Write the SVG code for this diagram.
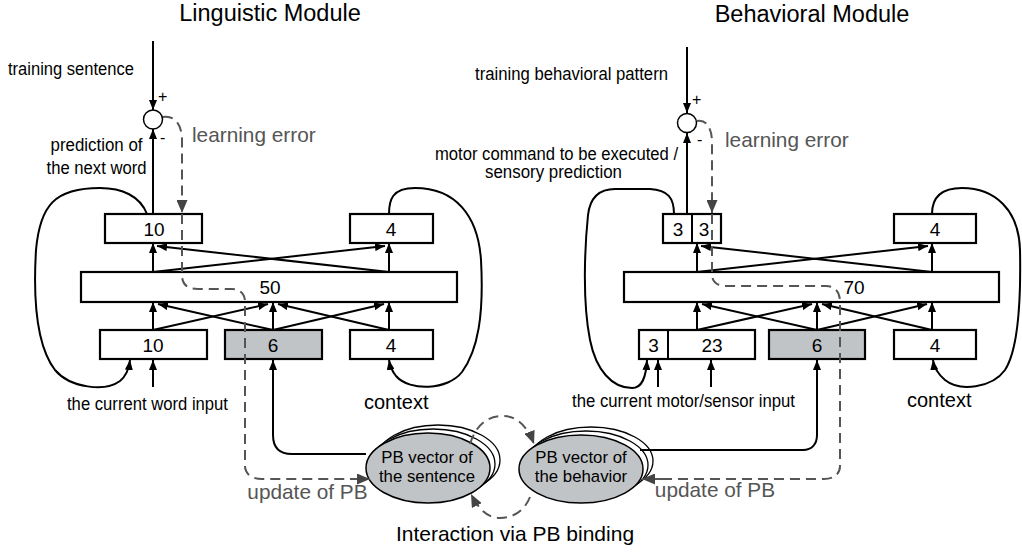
<svg xmlns="http://www.w3.org/2000/svg" width="1022" height="552" viewBox="0 0 1022 552">
<style>
text{font-family:"Liberation Sans",Arial,sans-serif;fill:#000}
.title{font-size:23.5px;text-anchor:middle}
.lbl{font-size:17.5px}
.big{font-size:20px}
.err{font-size:20.8px;fill:#555}
.num{font-size:19px;text-anchor:middle}
.pm{font-size:16px}
.pb{font-size:16.8px;text-anchor:middle}
.box{fill:#fff;stroke:#000;stroke-width:2.2}
.gbox{fill:#c0c4c7;stroke:#000;stroke-width:2.2}
.ell{fill:#fff;stroke:#000;stroke-width:1.3}
.gell{fill:#c0c4c7;stroke:#000;stroke-width:1.5}
.sum{fill:#fff;stroke:#000;stroke-width:1.5}
.c{fill:none;stroke:#000;stroke-width:2}
.a{marker-end:url(#arr)}
.d{fill:none;stroke:#555;stroke-width:2;stroke-dasharray:10 6}
.da{marker-end:url(#garr)}
</style>
<defs>
<marker id="arr" viewBox="0 0 10 8" refX="10" refY="4" markerWidth="10" markerHeight="8" markerUnits="userSpaceOnUse" orient="auto"><path d="M0,0L10,4L0,8z" fill="#000"/></marker>
<marker id="garr" viewBox="0 0 13 11" refX="13" refY="5.5" markerWidth="13" markerHeight="11" markerUnits="userSpaceOnUse" orient="auto"><path d="M0,0L13,5.5L0,11z" fill="#444"/></marker>
</defs>
<rect width="1022" height="552" fill="#fff"/>

<text class="title" x="270" y="21">Linguistic Module</text>
<text class="title" x="812" y="22">Behavioral Module</text>

<!-- Linguistic module nodes -->
<g id="L-sum"><circle class="sum" cx="153" cy="119.5" r="9.5"/></g>
<g id="L-out10"><rect class="box" x="105" y="214" width="97" height="29"/><text class="num" x="154" y="236">10</text></g>
<g id="L-ctxout4"><rect class="box" x="350" y="214" width="83" height="29"/><text class="num" x="391" y="236">4</text></g>
<g id="L-hid50"><rect class="box" x="81" y="272" width="376" height="30"/><text class="num" x="270" y="294">50</text></g>
<g id="L-in10"><rect class="box" x="100" y="330" width="107" height="29"/><text class="num" x="153" y="352">10</text></g>
<g id="L-pb6"><rect class="gbox" x="225" y="330" width="97" height="29"/><text class="num" x="273" y="352">6</text></g>
<g id="L-ctxin4"><rect class="box" x="350" y="330" width="83" height="29"/><text class="num" x="391" y="352">4</text></g>

<!-- Behavioral module nodes -->
<g id="B-sum"><circle class="sum" cx="687" cy="123" r="9.5"/></g>
<g id="B-out33"><rect class="box" x="663" y="214" width="58" height="29"/><line x1="692" y1="214" x2="692" y2="243" stroke="#000" stroke-width="2"/><text class="num" x="678" y="236">3</text><text class="num" x="704" y="236">3</text></g>
<g id="B-ctxout4"><rect class="box" x="894" y="214" width="82" height="29"/><text class="num" x="935" y="236">4</text></g>
<g id="B-hid70"><rect class="box" x="624" y="272" width="375" height="30"/><text class="num" x="854" y="294">70</text></g>
<g id="B-in323"><rect class="box" x="639" y="330" width="116" height="29"/><line x1="668" y1="330" x2="668" y2="359" stroke="#000" stroke-width="2"/><text class="num" x="653.5" y="352">3</text><text class="num" x="712" y="352">23</text></g>
<g id="B-pb6"><rect class="gbox" x="769" y="330" width="96" height="29"/><text class="num" x="817" y="352">6</text></g>
<g id="B-ctxin4"><rect class="box" x="894" y="330" width="82" height="29"/><text class="num" x="935" y="352">4</text></g>

<!-- PB ellipses -->
<g id="PB-sentence">
<ellipse class="ell" cx="438" cy="460" rx="62" ry="35"/>
<ellipse class="ell" cx="433" cy="464" rx="62" ry="35"/>
<ellipse class="gell" cx="428" cy="468" rx="62" ry="35"/>
<text class="pb" x="427" y="463">PB vector of</text>
<text class="pb" x="427" y="482">the sentence</text>
</g>
<g id="PB-behavior">
<ellipse class="ell" cx="591" cy="461" rx="62" ry="34"/>
<ellipse class="ell" cx="586" cy="465" rx="62" ry="34"/>
<ellipse class="gell" cx="581" cy="469" rx="62" ry="34"/>
<text class="pb" x="581" y="463">PB vector of</text>
<text class="pb" x="581" y="482">the behavior</text>
</g>

<!-- connectors -->
<g id="connectors">
<!-- Linguistic -->
<path class="c a" d="M153,41V110"/>
<path class="c a" d="M153,214V129"/>
<path class="c a" d="M153,272V243"/>
<path class="c a" d="M389,272V243"/>
<path class="c a" d="M153,272L385,246"/>
<path class="c a" d="M389,272L157,246"/>
<path class="c a" d="M153,330V302"/>
<path class="c a" d="M273,330V302"/>
<path class="c a" d="M389,330V302"/>
<path class="c a" d="M153,330L268,304"/>
<path class="c a" d="M273,330L158,304"/>
<path class="c a" d="M273,330L384,304"/>
<path class="c a" d="M389,330L278,304"/>
<path class="c a" d="M147,214C140,196 122,188 100,188C55,188 40,205 36,250C33,300 36,345 55,370C70,388 105,392 120,381C126,376 129,369 130,360"/>
<path class="c a" d="M389,214C389,200 392,188 415,188C455,188 478,215 481,260C484,315 478,350 462,372C448,390 410,392 396,376C392,371 390,366 389,360"/>
<path class="c a" d="M153,387V360"/>
<path class="c a" d="M366,454H292C279,454 273,447 273,435V360"/>
<path class="d da" d="M163,117C175,115 182,125 182,140V213"/>
<path class="d" d="M182,214V275C182,285 188,289 198,289H232C240,289 245,294 245,302V466C245,474 252,479 262,479H358"/>
<path class="d da" d="M350,479H370"/>
<!-- Behavioral -->
<path class="c a" d="M687,47V113"/>
<path class="c a" d="M687,214V133"/>
<path class="c a" d="M697,272V243"/>
<path class="c a" d="M932,272V243"/>
<path class="c a" d="M697,272L928,246"/>
<path class="c a" d="M932,272L701,246"/>
<path class="c a" d="M697,330V302"/>
<path class="c a" d="M817,330V302"/>
<path class="c a" d="M932,330V302"/>
<path class="c a" d="M697,330L812,304"/>
<path class="c a" d="M817,330L702,304"/>
<path class="c a" d="M817,330L927,304"/>
<path class="c a" d="M932,330L822,304"/>
<path class="c a" d="M674,214C674,198 668,190 650,189H615C598,189 590,198 588,215C585,245 582,300 590,340C596,370 612,388 632,388C642,388 646,378 647,360"/>
<path class="c a" d="M932,214C932,200 938,188 962,188C995,188 1019,210 1020,250C1021,300 1018,350 1005,370C992,388 960,392 945,380C938,374 934,368 933,360"/>
<path class="c a" d="M658,387V360"/>
<path class="c a" d="M711,387V360"/>
<path class="c a" d="M640,450H803C812,450 817,444 817,435V360"/>
<path class="d da" d="M697,121C706,119 712,128 712,142V213"/>
<path class="d" d="M712,214V274C712,282 717,286 726,286H826C835,286 840,292 840,302V466C840,474 834,479 824,479H655"/>
<path class="d da" d="M662,479H642"/>
<!-- Interaction -->
<path class="d da" d="M470,444C477,422 490,416 503,416C518,416 528,428 534,444"/>
<path class="d da" d="M530,497C524,512 512,518 500,518C488,518 479,510 471,494"/>
</g>

<!-- labels -->
<text class="lbl" x="134" y="75" text-anchor="end" textLength="126" lengthAdjust="spacingAndGlyphs">training sentence</text>
<text class="pm" x="158" y="102">+</text>
<text class="pm" x="160" y="143">-</text>
<text class="lbl" x="96.5" y="151" text-anchor="middle" textLength="92" lengthAdjust="spacingAndGlyphs">prediction of</text>
<text class="lbl" x="96.5" y="174" text-anchor="middle" textLength="100" lengthAdjust="spacingAndGlyphs">the next word</text>
<text class="err" x="192" y="142">learning error</text>
<text class="lbl" x="67" y="410" textLength="161" lengthAdjust="spacingAndGlyphs">the current word input</text>
<text class="big" x="364" y="409">context</text>
<text class="err" x="307.5" y="499" text-anchor="middle">update of PB</text>

<text class="lbl" x="668" y="80" text-anchor="end" textLength="193" lengthAdjust="spacingAndGlyphs">training behavioral pattern</text>
<text class="pm" x="692" y="105">+</text>
<text class="pm" x="697" y="145">-</text>
<text class="lbl" x="556.5" y="160" text-anchor="middle" textLength="243" lengthAdjust="spacingAndGlyphs">motor command to be executed /</text>
<text class="lbl" x="553.5" y="178" text-anchor="middle" textLength="137" lengthAdjust="spacingAndGlyphs">sensory prediction</text>
<text class="err" x="725" y="147">learning error</text>
<text class="lbl" x="572" y="407" textLength="223" lengthAdjust="spacingAndGlyphs">the current motor/sensor input</text>
<text class="big" x="907" y="407">context</text>
<text class="err" x="715" y="497" text-anchor="middle">update of PB</text>

<text x="515" y="541" text-anchor="middle" style="font-size:21px">Interaction via PB binding</text>
</svg>
